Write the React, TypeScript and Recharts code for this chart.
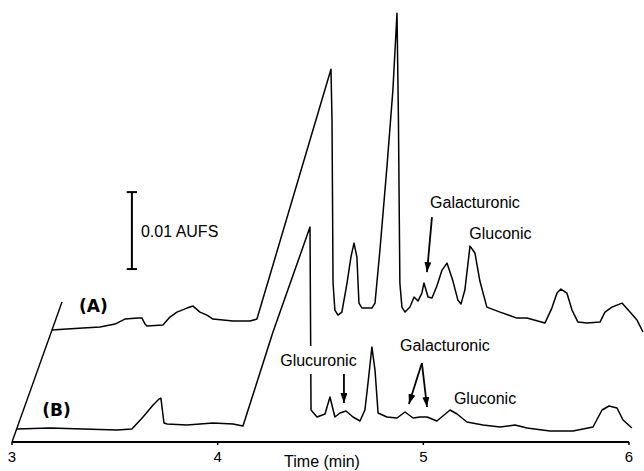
import React from 'react';
import { LineChart, Line, XAxis, YAxis, ReferenceLine, ReferenceDot } from 'recharts';

// retention time (min) and absorbance (mAU)
const traceATime = [
  3.194, 3.267, 3.345, 3.428, 3.501, 3.549, 3.613, 3.632, 3.647, 3.656, 3.734, 3.768, 3.802, 3.851,
  3.88, 3.914, 3.948, 3.977, 4.075, 4.157, 4.191, 4.551, 4.556, 4.561, 4.57, 4.585, 4.604, 4.629,
  4.648, 4.663, 4.677, 4.687, 4.702, 4.75, 4.765, 4.789, 4.823, 4.852, 4.872, 4.879, 4.886, 4.896,
  4.911, 4.935, 4.955, 4.974, 4.993, 5.003, 5.023, 5.042, 5.066, 5.091, 5.115, 5.144, 5.168, 5.183,
  5.202, 5.227, 5.251, 5.275, 5.309, 5.373, 5.455, 5.504, 5.591, 5.625, 5.65, 5.669, 5.698, 5.723,
  5.752, 5.796, 5.859, 5.883, 5.917, 5.966, 6.005, 6.039, 6.068,
];
const traceAValue = [
  14.55, 14.68, 14.81, 14.94, 15.32, 15.97, 16.1, 16.1, 15.32, 15.06, 15.19, 16.23, 16.88, 17.4,
  17.66, 16.88, 16.49, 15.97, 15.71, 15.71, 15.97, 48.44, 41.82, 20.65, 17.14, 16.49, 16.88, 20.65,
  24.03, 25.84, 24.03, 18.05, 17.4, 17.4, 18.05, 24.94, 35.71, 45.71, 55.71, 41.82, 20.65, 17.53,
  16.88, 17.53, 18.83, 18.31, 19.35, 20.65, 18.83, 18.7, 20.26, 22.34, 23.25, 20.91, 18.44, 17.92,
  19.74, 25.45, 24.55, 20.91, 17.53, 16.88, 16.1, 16.1, 15.45, 17.4, 19.35, 19.87, 19.35, 17.14,
  15.58, 15.45, 15.58, 16.88, 17.53, 18.05, 16.88, 15.84, 14.29,
];

const traceBTime = [
  3.024, 3.185, 3.345, 3.511, 3.583, 3.637, 3.686, 3.715, 3.724, 3.739, 3.754, 3.851, 3.977, 4.075,
  4.123, 4.269, 4.449, 4.454, 4.483, 4.522, 4.546, 4.57, 4.595, 4.624, 4.658, 4.692, 4.716, 4.731,
  4.75, 4.765, 4.78, 4.823, 4.872, 4.911, 4.95, 4.984, 5.018, 5.066, 5.13, 5.164, 5.212, 5.29,
  5.373, 5.446, 5.504, 5.616, 5.728, 5.825, 5.869, 5.903, 5.942, 5.971, 6.014,
];
const traceBValue = [
  1.69, 1.82, 1.69, 1.56, 1.69, 3.25, 4.81, 5.58, 5.71, 2.47, 2.34, 2.21, 2.47, 2.34,
  2.08, 14.29, 27.92, 4.16, 3.25, 3.64, 5.84, 3.25, 3.77, 4.03, 3.25, 2.73, 4.16, 7.66,
  12.34, 9.35, 3.77, 3.25, 3.12, 3.9, 3.12, 3.25, 3.25, 2.73, 4.16, 3.64, 2.6, 2.21,
  1.95, 2.21, 1.82, 1.43, 1.43, 1.95, 4.16, 4.68, 4.42, 2.86, 1.82,
];

const xTicks = [3, 4, 5, 6];

// annotations, in data coordinates
const labels = [
  { text: '0.01 AUFS', t: 3.627, v: 27.4, anchor: 'start' },
  { text: '(A)', t: 3.396, v: 17.66, bold: true },
  { text: '(B)', t: 3.216, v: 4.16, bold: true },
  { text: 'Galacturonic', t: 5.251, v: 31.17 },
  { text: 'Gluconic', t: 5.375, v: 27.14 },
  { text: 'Glucuronic', t: 4.49, v: 10.65, bg: true },
  { text: 'Galacturonic', t: 5.105, v: 12.6 },
  { text: 'Gluconic', t: 5.3, v: 5.71 },
];

const arrows = [
  [[5.042, 29.22], [5.018, 22.08]],
  [[4.614, 8.96], [4.614, 5.06]],
  [[4.993, 10.26], [4.93, 4.94]],
  [[4.993, 10.26], [5.018, 4.55]],
];

// 0.01 AU scale bar
const barTime = 3.583;
const barLow = 22.47;
const barHigh = 32.47;
const barCap = 0.025;

const FONT = '"Liberation Sans", Arial, sans-serif';

const traceA = traceATime.map((t, i) => ({ t, v: traceAValue[i] }));
const traceB = traceBTime.map((t, i) => ({ t, v: traceBValue[i] }));

const makeLabel = (l: any) => (props: any) => {
  const vb = props.viewBox;
  const cx = vb.x + vb.width / 2;
  const cy = vb.y + vb.height / 2;
  return (
    <g>
      {l.bg && <rect x={cx - 44} y={cy - 14} width={88} height={28} fill="#fff" />}
      <text
        x={cx}
        y={cy}
        textAnchor={l.anchor || 'middle'}
        dominantBaseline="central"
        fontFamily={l.bold ? '"DejaVu Sans", sans-serif' : FONT}
        fontWeight={l.bold ? 'bold' : 'normal'}
        fontSize={l.bold ? 17 : 16}
        fill="#000"
      >
        {l.text}
      </text>
    </g>
  );
};

const arrowShape = (props: any) => (
  <line x1={props.x1} y1={props.y1} x2={props.x2} y2={props.y2} stroke="#000" strokeWidth={1.8} markerEnd="url(#arrowHead)" />
);

export default function App() {
  return (
    <div style={{ position: 'absolute', left: 0, top: 0, background: '#fff' }}>
      <svg width={0} height={0} style={{ position: 'absolute' }}>
        <defs>
          <marker id="arrowHead" viewBox="0 0 10 7" refX={10} refY={3.5} markerWidth={10} markerHeight={7} orient="auto" markerUnits="userSpaceOnUse">
            <path d="M0,0 L10,3.5 L0,7 z" fill="#000" />
          </marker>
        </defs>
      </svg>
      <LineChart width={644} height={471} margin={{ top: 11, right: 0, left: 12, bottom: 0 }}>
        <XAxis
          dataKey="t"
          type="number"
          domain={[3, 6.073]}
          allowDataOverflow
          ticks={xTicks}
          interval={0}
          axisLine={false}
          tickLine={{ stroke: '#000', strokeWidth: 1.5 }}
          tickSize={3}
          tickMargin={6}
          height={29}
          tick={{ fontSize: 15, fill: '#000', fontFamily: FONT }}
          label={{ value: 'Time (min)', position: 'insideBottom', offset: 4, dx: -6, fontSize: 16, fill: '#000', fontFamily: FONT }}
        />
        <YAxis hide type="number" domain={[0, 56]} allowDataOverflow />
        <Line data={traceA} dataKey="v" type="linear" stroke="#000" strokeWidth={1.5} strokeLinejoin="round" dot={false} activeDot={false} isAnimationActive={false} />
        <Line data={traceB} dataKey="v" type="linear" stroke="#000" strokeWidth={1.5} strokeLinejoin="round" dot={false} activeDot={false} isAnimationActive={false} />
        <ReferenceLine segment={[{ x: 3, y: 0 }, { x: 6, y: 0 }]} stroke="#000" strokeWidth={2} />
        <ReferenceLine segment={[{ x: 3, y: 0 }, { x: 3.243, y: 18.18 }]} stroke="#000" strokeWidth={1.4} />
        <ReferenceLine segment={[{ x: barTime, y: barLow }, { x: barTime, y: barHigh }]} stroke="#000" strokeWidth={2} />
        <ReferenceLine segment={[{ x: barTime - barCap, y: barHigh }, { x: barTime + barCap, y: barHigh }]} stroke="#000" strokeWidth={2} />
        <ReferenceLine segment={[{ x: barTime - barCap, y: barLow }, { x: barTime + barCap, y: barLow }]} stroke="#000" strokeWidth={2} />
        {arrows.map((a, i) => (
          <ReferenceLine key={'ar' + i} segment={[{ x: a[0][0], y: a[0][1] }, { x: a[1][0], y: a[1][1] }]} shape={arrowShape} />
        ))}
        {labels.map((l, i) => (
          <ReferenceDot key={'lb' + i} x={l.t} y={l.v} r={0} fill="none" stroke="none" label={makeLabel(l)} />
        ))}
      </LineChart>
    </div>
  );
}
